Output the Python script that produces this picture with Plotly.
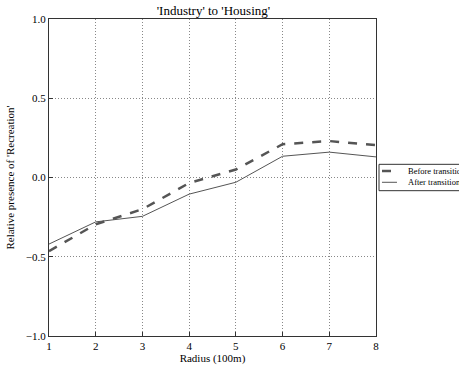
import plotly.graph_objects as go

radius = [1, 2, 3, 4, 5, 6, 7, 8]
before = [-0.465, -0.295, -0.20, -0.035, 0.05, 0.21, 0.23, 0.205]
after = [-0.42, -0.28, -0.245, -0.105, -0.03, 0.134, 0.16, 0.13]
series_names = ["Before transition", "After transition"]
yticks = [-1.0, -0.5, 0.0, 0.5, 1.0]
yticklabels = ["\u22121.0", "\u22120.5", "0.0", "0.5", "1.0"]
font = "Liberation Serif"
line_color = "#555555"

fig = go.Figure()
fig.add_trace(go.Scatter(x=radius, y=before, mode="lines", name=series_names[0],
                         line=dict(color=line_color, width=2.5, dash="dash")))
fig.add_trace(go.Scatter(x=radius, y=after, mode="lines", name=series_names[1],
                         line=dict(color=line_color, width=1)))

axis_common = dict(showline=True, linecolor="#333333", linewidth=1.3, mirror=True,
                   ticks="inside", ticklen=4, tickcolor="#333333",
                   showgrid=True, gridcolor="#888888", griddash="1px,2px", gridwidth=1,
                   zeroline=False, tickfont=dict(family=font, size=11, color="black"))

# matplotlib-style legend box placed outside the axes on the right (paper coordinates)
legend_shapes = [
    dict(type="rect", xref="paper", yref="paper", x0=1.0092, x1=1.30, y0=0.4584, y1=0.5416,
         line=dict(color="#333333", width=1), fillcolor="white", layer="above"),
    dict(type="line", xref="paper", yref="paper", x0=1.0183, x1=1.0642, y0=0.5205, y1=0.5205,
         line=dict(color=line_color, width=2.5, dash="dash"), layer="above"),
    dict(type="line", xref="paper", yref="paper", x0=1.0183, x1=1.0642, y0=0.4849, y1=0.4849,
         line=dict(color=line_color, width=1), layer="above"),
]
legend_texts = [
    dict(text=series_names[0], xref="paper", yref="paper", x=1.0917, y=0.5205,
         xanchor="left", yanchor="middle", showarrow=False,
         font=dict(family=font, size=8.5, color="black")),
    dict(text=series_names[1], xref="paper", yref="paper", x=1.0917, y=0.4849,
         xanchor="left", yanchor="middle", showarrow=False,
         font=dict(family=font, size=8.5, color="black")),
]

fig.update_layout(
    width=459, height=368,
    margin=dict(l=49, r=83, t=19, b=32, autoexpand=False),
    plot_bgcolor="white", paper_bgcolor="white",
    font=dict(family=font, color="black"),
    showlegend=False,
    title=dict(text="'Industry' to 'Housing'", x=0.465, xanchor="center", y=0.972, yanchor="middle",
               font=dict(family=font, size=13, color="black")),
    xaxis=dict(range=[1, 8], tickvals=radius, title=dict(text="Radius (100m)", standoff=2,
               font=dict(family=font, size=11)), **axis_common),
    yaxis=dict(range=[-1, 1], tickvals=yticks, ticktext=yticklabels,
               title=dict(text="Relative presence of 'Recreation'", standoff=8,
                          font=dict(family=font, size=11)), **axis_common),
    shapes=legend_shapes,
    annotations=legend_texts,
)
fig.write_html("out.html", config={"displayModeBar": False},
               post_script="document.body.style.margin='0';document.body.style.overflow='hidden';")
